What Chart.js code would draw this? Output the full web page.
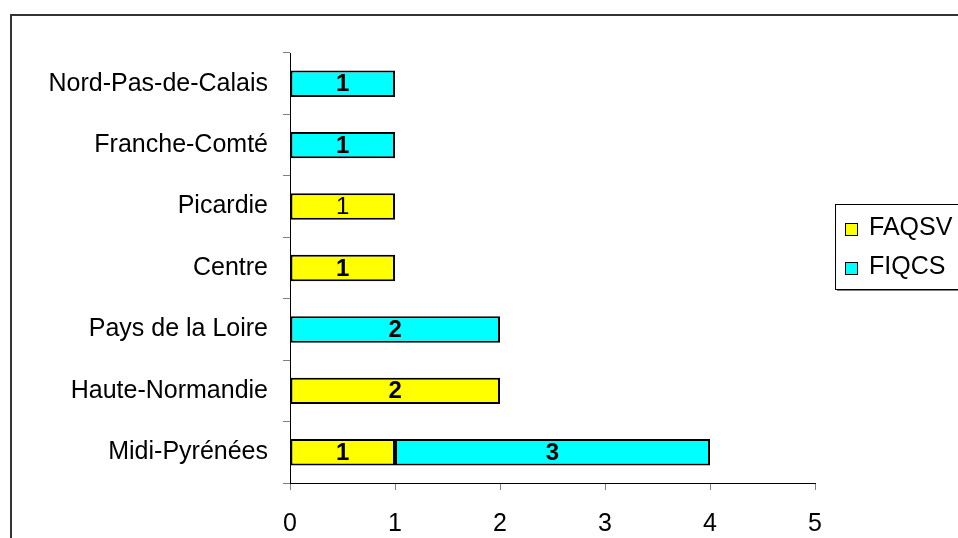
<!DOCTYPE html>
<html>
<head>
<meta charset="utf-8">
<script src="https://cdn.jsdelivr.net/npm/chart.js@4/dist/chart.umd.min.js"></script>
<style>
    html, body { margin: 0; padding: 0; background: #fff; }
    #wrap { width: 958px; height: 538px; }
</style>
</head>
<body>
<div id="wrap"><canvas id="chart" width="958" height="538"></canvas></div>
<script>
// Régions (du haut vers le bas)
const regions = ['Nord-Pas-de-Calais', 'Franche-Comté', 'Picardie', 'Centre', 'Pays de la Loire', 'Haute-Normandie', 'Midi-Pyrénées'];
// null = pas de barre
const faqsv = [null, null, 1, 1, null, 2, 1];
const fiqcs = [1, 1, null, null, 2, null, 3];
const xTicks = [0, 1, 2, 3, 4, 5];
// étiquettes non grasses dans le graphique d'origine
const plainLabels = ['Picardie'];

const FONT = "'Liberation Sans', Arial, sans-serif";

// Cadre extérieur + fond blanc
const framePlugin = {
    id: 'frame',
    beforeDraw(chart) {
        const ctx = chart.ctx;
        ctx.save();
        ctx.fillStyle = '#fff';
        ctx.fillRect(0, 0, chart.width, chart.height);
        ctx.strokeStyle = '#333';
        ctx.lineWidth = 2;
        ctx.strokeRect(11, 15, 980, 560);
        ctx.restore();
    }
};

// Valeurs au centre des barres
const valueLabels = {
    id: 'valueLabels',
    afterDatasetsDraw(chart) {
        const ctx = chart.ctx;
        ctx.save();
        ctx.fillStyle = '#000';
        ctx.textAlign = 'center';
        ctx.textBaseline = 'middle';
        chart.data.datasets.forEach((ds, i) => {
            const meta = chart.getDatasetMeta(i);
            meta.data.forEach((bar, j) => {
                const v = ds.data[j];
                if (v === null || v === undefined) return;
                const bold = plainLabels.indexOf(regions[j]) === -1;
                ctx.font = (bold ? 'bold ' : '') + '24px ' + FONT;
                ctx.fillText(String(v), (bar.x + bar.base) / 2, bar.y + 1);
            });
        });
        ctx.restore();
    }
};

// Légende encadrée à droite
const boxLegend = {
    id: 'boxLegend',
    afterDraw(chart) {
        const ctx = chart.ctx;
        const x = 835, y = 204, w = 140, h = 85;
        ctx.save();
        ctx.fillStyle = '#808080';
        ctx.fillRect(x + 2, y + 2, w, h);
        ctx.fillStyle = '#fff';
        ctx.fillRect(x, y, w, h);
        ctx.strokeStyle = '#000';
        ctx.lineWidth = 1;
        ctx.strokeRect(x + 0.5, y + 0.5, w, h);
        ctx.font = '25px ' + FONT;
        ctx.textBaseline = 'middle';
        ctx.textAlign = 'left';
        chart.data.datasets.forEach((ds, i) => {
            const cy = 229 + i * 39;
            ctx.fillStyle = ds.backgroundColor;
            ctx.fillRect(845, cy - 6, 12, 12);
            ctx.strokeStyle = '#000';
            ctx.strokeRect(845.5, cy - 5.5, 12, 12);
            ctx.fillStyle = '#000';
            ctx.fillText(ds.label, 869, cy - 1);
        });
        ctx.restore();
    }
};

new Chart(document.getElementById('chart'), {
    type: 'bar',
    data: {
        labels: regions,
        datasets: [
            {
                label: 'FAQSV',
                data: faqsv,
                backgroundColor: '#ffff00',
                borderColor: '#000',
                borderWidth: 2,
                borderSkipped: false,
                barPercentage: 0.43,
                categoryPercentage: 1
            },
            {
                label: 'FIQCS',
                data: fiqcs,
                backgroundColor: '#00ffff',
                borderColor: '#000',
                borderWidth: 2,
                borderSkipped: false,
                barPercentage: 0.43,
                categoryPercentage: 1
            }
        ]
    },
    options: {
        indexAxis: 'y',
        responsive: false,
        animation: false,
        layout: { padding: { top: 53, right: 143, left: 0, bottom: 0 } },
        plugins: {
            legend: { display: false },
            tooltip: { enabled: false }
        },
        scales: {
            x: {
                stacked: true,
                min: 0,
                max: 5,
                afterBuildTicks(scale) {
                    scale.ticks = xTicks.map(v => ({ value: v }));
                },
                afterFit(scale) { scale.height = 55; },
                ticks: {
                    color: '#000',
                    font: { family: FONT, size: 25 },
                    padding: 19,
                    maxRotation: 0
                },
                grid: {
                    drawOnChartArea: false,
                    drawTicks: true,
                    tickLength: 7,
                    color: '#808080'
                },
                border: { color: '#000', width: 1 }
            },
            y: {
                stacked: true,
                afterFit(scale) { scale.width = 290; },
                ticks: {
                    color: '#000',
                    font: { family: FONT, size: 25 },
                    padding: 15
                },
                grid: {
                    offset: true,
                    drawOnChartArea: false,
                    drawTicks: true,
                    tickLength: 7,
                    color: '#808080'
                },
                border: { color: '#000', width: 1 }
            }
        }
    },
    plugins: [framePlugin, valueLabels, boxLegend]
});
</script>
</body>
</html>
